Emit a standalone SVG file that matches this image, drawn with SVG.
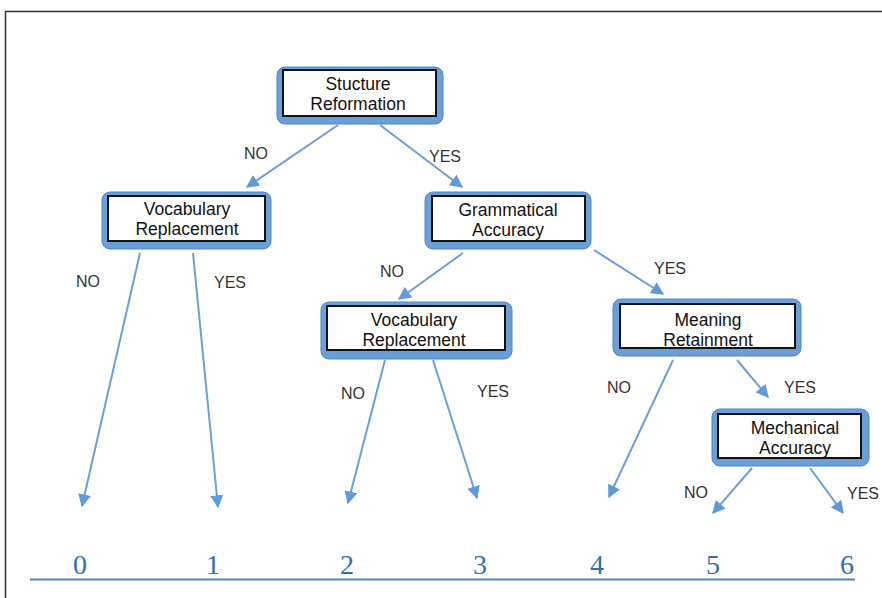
<svg xmlns="http://www.w3.org/2000/svg" width="882" height="598" viewBox="0 0 882 598">
<style>
.outer{fill:#6a9fd8;stroke:#4f86c6;stroke-width:1}
.inner{fill:#fff;stroke:#111;stroke-width:2}
.nt{font-family:"Liberation Sans",Arial,sans-serif;font-size:17.5px;fill:#111;text-anchor:middle}
.lbl{font-family:"Liberation Sans",Arial,sans-serif;font-size:16px;fill:#333;text-anchor:middle}
.con{stroke:#6a9fd8;stroke-width:2;fill:none;marker-end:url(#ah)}
.num{font-family:"Liberation Serif","Times New Roman",serif;font-size:28px;fill:#2f6fb3;text-anchor:middle}
</style>
<defs>
<marker id="ah" viewBox="0 0 10 10" refX="9" refY="5" markerWidth="6.5" markerHeight="6.5" orient="auto" markerUnits="strokeWidth">
<path d="M0,0 L10,5 L0,10 z" fill="#5f9bd8"/>
</marker>
</defs>
<rect width="882" height="598" fill="#fff"/>
<path d="M5.5,598 V11.5 H882" fill="none" stroke="#333" stroke-width="1.5"/>

<g id="n1">
<rect class="outer" x="277" y="67" width="166" height="57" rx="8"/>
<rect class="inner" x="283" y="70" width="153" height="46"/>
<text class="nt" x="358" y="90">Stucture</text>
<text class="nt" x="358" y="110">Reformation</text>
</g>
<g id="n2">
<rect class="outer" x="102" y="192" width="169" height="57" rx="8"/>
<rect class="inner" x="108" y="196" width="157" height="45"/>
<text class="nt" x="187" y="215">Vocabulary</text>
<text class="nt" x="187" y="235">Replacement</text>
</g>
<g id="n3">
<rect class="outer" x="425" y="192" width="166" height="57" rx="8"/>
<rect class="inner" x="432" y="196" width="153" height="45"/>
<text class="nt" x="508" y="216">Grammatical</text>
<text class="nt" x="508" y="236">Accuracy</text>
</g>
<g id="n4">
<rect class="outer" x="321" y="302" width="191" height="57" rx="8"/>
<rect class="inner" x="327" y="306" width="178" height="44"/>
<text class="nt" x="414" y="326">Vocabulary</text>
<text class="nt" x="414" y="346">Replacement</text>
</g>
<g id="n5">
<rect class="outer" x="613" y="299" width="188" height="57" rx="8"/>
<rect class="inner" x="620" y="304" width="175" height="44"/>
<text class="nt" x="708" y="326">Meaning</text>
<text class="nt" x="708" y="346">Retainment</text>
</g>
<g id="n6">
<rect class="outer" x="712" y="409" width="157" height="57" rx="8"/>
<rect class="inner" x="718" y="414" width="143" height="44"/>
<text class="nt" x="795" y="434">Mechanical</text>
<text class="nt" x="795" y="454">Accuracy</text>
</g>

<g id="connectors">
<line class="con" x1="338" y1="125" x2="247" y2="187"/>
<line class="con" x1="380" y1="125" x2="462" y2="187"/>
<line class="con" x1="140" y1="253" x2="82" y2="506"/>
<line class="con" x1="193" y1="253" x2="218" y2="507"/>
<line class="con" x1="463" y1="253" x2="399" y2="299"/>
<line class="con" x1="594" y1="250" x2="663" y2="294"/>
<line class="con" x1="385" y1="360" x2="348" y2="503"/>
<line class="con" x1="433" y1="360" x2="477" y2="498"/>
<line class="con" x1="673" y1="360" x2="609" y2="497"/>
<line class="con" x1="737" y1="360" x2="768" y2="397"/>
<line class="con" x1="752" y1="468" x2="713" y2="513"/>
<line class="con" x1="810" y1="468" x2="843" y2="513"/>
</g>

<g id="labels">
<text class="lbl" x="256" y="159">NO</text>
<text class="lbl" x="445" y="162">YES</text>
<text class="lbl" x="88" y="287">NO</text>
<text class="lbl" x="230" y="288">YES</text>
<text class="lbl" x="392" y="277">NO</text>
<text class="lbl" x="670" y="274">YES</text>
<text class="lbl" x="353" y="399">NO</text>
<text class="lbl" x="493" y="397">YES</text>
<text class="lbl" x="619" y="393">NO</text>
<text class="lbl" x="800" y="393">YES</text>
<text class="lbl" x="696" y="498">NO</text>
<text class="lbl" x="863" y="499">YES</text>
</g>

<g id="scale">
<text class="num" x="80" y="574">0</text>
<text class="num" x="213" y="574">1</text>
<text class="num" x="347" y="574">2</text>
<text class="num" x="480" y="574">3</text>
<text class="num" x="597" y="574">4</text>
<text class="num" x="713" y="574">5</text>
<text class="num" x="847" y="574">6</text>
<line x1="30" y1="579.5" x2="855" y2="579.5" stroke="#4f86c6" stroke-width="2"/>
</g>
</svg>
